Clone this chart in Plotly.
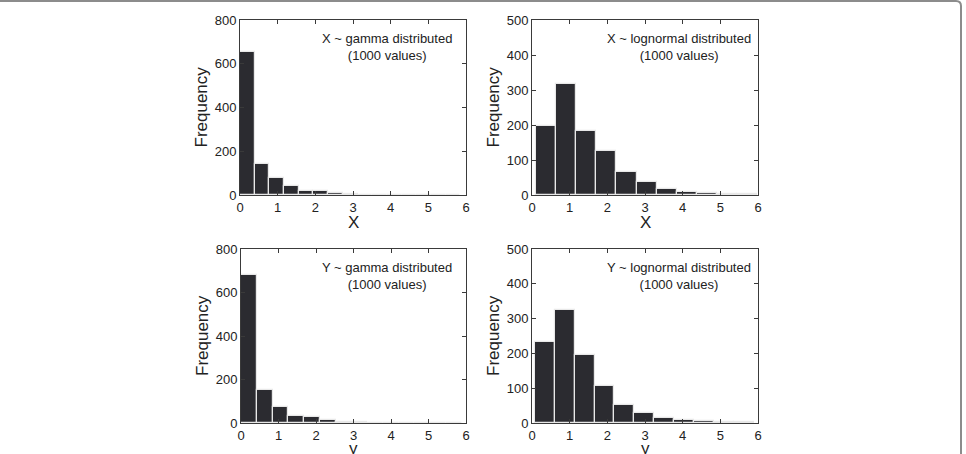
import plotly.graph_objects as go

W, H = 966, 454

# ---- data ----
gx_start, gx_step = 0.0, 0.39
gamma_x_counts = [652, 140, 79, 43, 17, 17, 10, 5, 2, 1, 1, 1, 1, 1, 2]
gy_start, gy_step = 0.0, 0.42
gamma_y_counts = [680, 150, 72, 34, 28, 14, 5, 3, 2, 1, 1, 1, 1, 1]
lx_start, lx_step = 0.10, 0.535
lognorm_x_counts = [198, 317, 183, 127, 66, 38, 17, 10, 5, 3, 3]
ly_start, ly_step = 0.07, 0.53
lognorm_y_counts = [234, 325, 196, 107, 53, 28, 15, 10, 7, 3, 4]

x_ticks = [0, 1, 2, 3, 4, 5, 6]
panel_texts = ["X ~ gamma distributed<br>(1000 values)",
               "X ~ lognormal distributed<br>(1000 values)",
               "Y ~ gamma distributed<br>(1000 values)",
               "Y ~ lognormal distributed<br>(1000 values)"]
x_titles = ["X", "X", "y", "y"]
y_max = [800, 500, 800, 500]
y_dtick = [200, 100, 200, 100]

FONT = "Liberation Sans, Arial, sans-serif"
BAR = "#2b2b30"
AX = "#3a3a3a"

def px_x(p):
    return p / W

def px_y(p):
    return 1 - p / H

# pixel boxes: (left, right, top, bottom)
boxes = [(240, 466, 20, 195), (532, 758, 20, 195),
         (241, 466, 249, 423), (532, 758, 249, 423)]
title_offsets = [28, 28, 25, 25]

series = [(gx_start, gx_step, gamma_x_counts),
          (lx_start, lx_step, lognorm_x_counts),
          (gy_start, gy_step, gamma_y_counts),
          (ly_start, ly_step, lognorm_y_counts)]

fig = go.Figure()
layout = dict(width=W, height=H, margin=dict(l=0, r=0, t=0, b=0),
              paper_bgcolor="white", plot_bgcolor="white", showlegend=False,
              font=dict(family=FONT, color="#222", size=13), bargap=0)
annotations = []

for i, ((l, r, t, b), (s0, st, counts)) in enumerate(zip(boxes, series)):
    n = i + 1
    xa = "x" if n == 1 else f"x{n}"
    ya = "y" if n == 1 else f"y{n}"
    centers = [s0 + st * (k + 0.5) for k in range(len(counts))]
    fig.add_trace(go.Bar(x=centers, y=counts, width=[st] * len(counts),
                         marker=dict(color=BAR, line=dict(color="#e8e8e8", width=1.2)),
                         xaxis=xa, yaxis=ya))
    xkey = "xaxis" if n == 1 else f"xaxis{n}"
    ykey = "yaxis" if n == 1 else f"yaxis{n}"
    layout[xkey] = dict(domain=[px_x(l), px_x(r)], anchor=ya, range=[0, 6],
                        tickvals=x_ticks, ticks="inside", ticklen=4, tickcolor=AX,
                        showline=True, linecolor=AX, linewidth=1, mirror="ticks",
                        showgrid=False, zeroline=False, automargin=False,
                        tickfont=dict(size=13, color="#222", family=FONT))
    layout[ykey] = dict(domain=[px_y(b), px_y(t)], anchor=xa, range=[0, y_max[i]],
                        dtick=y_dtick[i], ticks="inside", ticklen=4, tickcolor=AX,
                        showline=True, linecolor=AX, linewidth=1, mirror="ticks",
                        showgrid=False, zeroline=False, automargin=False,
                        tickfont=dict(size=13, color="#222", family=FONT))
    # panel text
    annotations.append(dict(text=panel_texts[i], xref="paper", yref="paper",
                            x=px_x(l + (r - l) * 0.65), y=px_y(t + 27),
                            xanchor="center", yanchor="middle", showarrow=False,
                            align="center", font=dict(size=13, color="#222", family=FONT)))
    # axis titles
    annotations.append(dict(text=x_titles[i], xref="paper", yref="paper",
                            x=px_x((l + r) / 2), y=px_y(b + title_offsets[i]),
                            xanchor="center", yanchor="middle", showarrow=False,
                            borderpad=0,
                            font=dict(size=17, color="#222", family=FONT)))
    annotations.append(dict(text="Frequency", xref="paper", yref="paper",
                            x=px_x(l - 39), y=px_y((t + b) / 2), textangle=-90,
                            xanchor="center", yanchor="middle", showarrow=False,
                            font=dict(size=17, color="#222", family=FONT)))

layout["annotations"] = annotations
# frame: top line and right line with rounded corner
x2 = px_x(961)
x1 = px_x(956)
y1 = px_y(1)
y2 = px_y(6)
layout["shapes"] = [dict(type="path", xref="paper", yref="paper",
                         path=f"M 0 {y1} L {x1} {y1} Q {x2} {y1} {x2} {y2} L {x2} 0",
                         line=dict(color="#8c8c8c", width=2))]
fig.update_layout(**layout)
fig.write_html("out.html")
